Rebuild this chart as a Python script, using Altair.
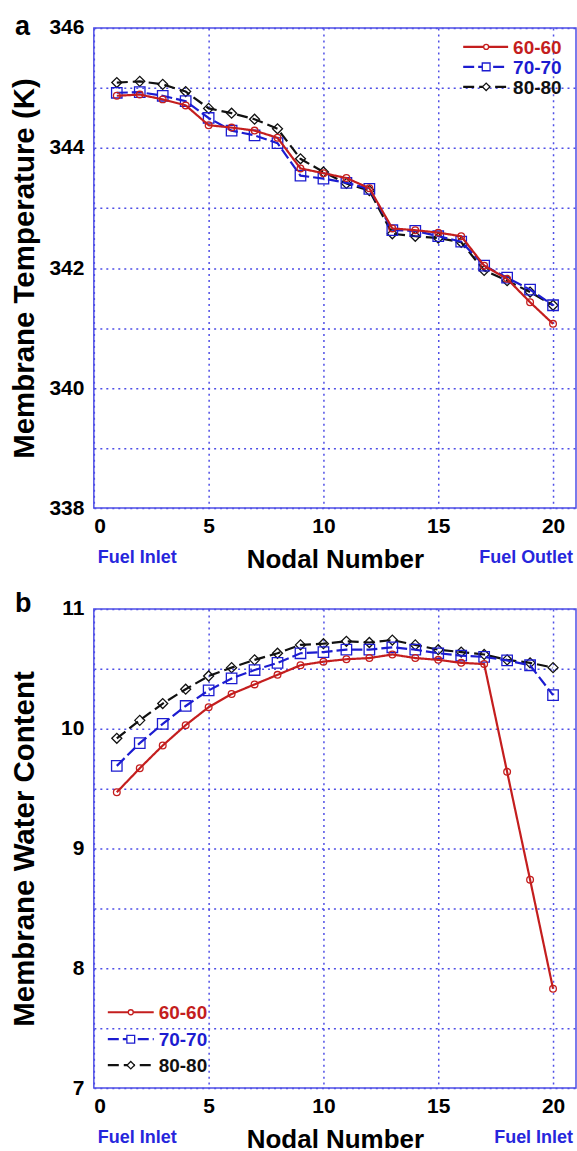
import altair as alt
import pandas as pd

# ---------------- data ----------------
nodes = list(range(1, 21))
series_names = ["60-60", "70-70", "80-80"]

temp_60 = [344.87, 344.89, 344.81, 344.71, 344.38, 344.34, 344.29, 344.17, 343.66, 343.58,
           343.50, 343.33, 342.66, 342.63, 342.59, 342.53, 342.04, 341.82, 341.43, 341.07]
temp_70 = [344.92, 344.93, 344.87, 344.78, 344.50, 344.29, 344.21, 344.08, 343.54, 343.49,
           343.42, 343.32, 342.63, 342.62, 342.53, 342.44, 342.04, 341.84, 341.64, 341.38]
temp_80 = [345.09, 345.11, 345.06, 344.94, 344.66, 344.58, 344.48, 344.32, 343.82, 343.60,
           343.41, 343.29, 342.57, 342.53, 342.50, 342.43, 341.96, 341.79, 341.60, 341.38]

water_60 = [9.47, 9.67, 9.86, 10.03, 10.18, 10.29, 10.37, 10.45, 10.53, 10.56,
            10.58, 10.59, 10.62, 10.59, 10.575, 10.55, 10.54, 9.64, 8.74, 7.83]
water_70 = [9.69, 9.88, 10.04, 10.19, 10.32, 10.42, 10.49, 10.55, 10.63, 10.64,
            10.66, 10.66, 10.68, 10.66, 10.63, 10.61, 10.60, 10.57, 10.53, 10.28]
water_80 = [9.92, 10.07, 10.21, 10.33, 10.44, 10.51, 10.575, 10.63, 10.70, 10.71,
            10.73, 10.72, 10.74, 10.70, 10.66, 10.64, 10.62, 10.575, 10.55, 10.51]

x_ticks = [0, 5, 10, 15, 20]
temp_grid = [338, 339, 340, 341, 342, 343, 344, 345, 346]
water_grid = [7, 7.5, 8, 8.5, 9, 9.5, 10, 10.5, 11]

# ---------------- styles ----------------
FONT = "Liberation Sans"
FRAME = "#4f4fe6"
STY = {
    "60-60": dict(color="#c41e1e", dash=[1, 0], shape="circle", size=45),
    "70-70": dict(color="#1c1cd0", dash=[11, 4], shape="square", size=110),
    "80-80": dict(color="#111111", dash=[11, 5], shape="diamond", size=100),
}
DRAW_ORDER = ["80-80", "70-70", "60-60"]
W = 483


def panel(vals, ydom, ygrid, lab_expr, ytitle, H, letter, letter_y,
          right_label, leg_rows, leg_x0, leg_x1, leg_mx, leg_tx, anchor=False):
    dummy = pd.DataFrame({"k": [0]})
    xaxis = alt.Axis(values=x_ticks, title="Nodal Number", domain=False, ticks=False,
                     labelPadding=7, labelFontSize=21, labelFont=FONT, labelFontWeight="bold",
                     labelColor="black", titleFont=FONT, titleFontSize=26, titleFontWeight="bold",
                     titleColor="black", titleY=51, titleBaseline="middle",
                     grid=True, gridColor=FRAME, gridDash=[2, 4], gridWidth=1.5, gridOpacity=1)
    yaxis = alt.Axis(values=ygrid, title=ytitle, domain=False, ticks=False,
                     labelExpr=lab_expr, labelPadding=10, labelFontSize=21, labelFont=FONT,
                     labelFontWeight="bold", labelColor="black",
                     titleFont=FONT, titleFontSize=29.5, titleFontWeight="bold", titleColor="black",
                     titleAngle=270, titleX=-60, titleY=H / 2, titleAlign="center",
                     titleBaseline="alphabetic",
                     grid=True, gridColor=FRAME, gridDash=[2, 4], gridWidth=1.5, gridOpacity=1)
    layers = []
    for name in DRAW_ORDER:
        s = STY[name]
        df = pd.DataFrame({"node": nodes, "value": vals[name]})
        base = alt.Chart(df).encode(
            x=alt.X("node:Q", scale=alt.Scale(domain=[0, 21], nice=False, zero=False), axis=xaxis),
            y=alt.Y("value:Q", scale=alt.Scale(domain=ydom, nice=False, zero=False), axis=yaxis),
        )
        layers.append(base.mark_line(color=s["color"], strokeWidth=2.2, strokeDash=s["dash"]))
        layers.append(base.mark_point(shape=s["shape"], size=s["size"], filled=False,
                                      color=s["color"], strokeWidth=1.3, opacity=1))
    # legend
    for i, name in enumerate(series_names):
        s = STY[name]
        yy = leg_rows[i]
        layers.append(alt.Chart(dummy).mark_rule(color=s["color"], strokeWidth=2.2,
                                                 strokeDash=s["dash"]).encode(
            x=alt.value(leg_x0), x2=alt.value(leg_x1), y=alt.value(yy)))
        layers.append(alt.Chart(dummy).mark_point(shape=s["shape"], size=s["size"] * 0.55,
                                                  filled=True, fill="white", stroke=s["color"],
                                                  strokeWidth=1.3, opacity=1).encode(
            x=alt.value(leg_mx), y=alt.value(yy)))
        layers.append(alt.Chart(dummy).mark_text(text=name, align="left", baseline="middle",
                                                 font=FONT, fontSize=19, fontWeight="bold",
                                                 color=s["color"]).encode(
            x=alt.value(leg_tx), y=alt.value(yy + 1)))
    # panel letter
    layers.append(alt.Chart(dummy).mark_text(text=letter, align="left", baseline="alphabetic",
                                             font=FONT, fontSize=27, fontWeight="bold",
                                             color="black").encode(
        x=alt.value(-79), y=alt.value(letter_y)))
    # fuel labels
    layers.append(alt.Chart(dummy).mark_text(text="Fuel Inlet", align="left", baseline="middle",
                                             font=FONT, fontSize=18, fontWeight="bold",
                                             color="#2626dc").encode(
        x=alt.value(4), y=alt.value(H + 50)))
    layers.append(alt.Chart(dummy).mark_text(text=right_label, align="right", baseline="middle",
                                             font=FONT, fontSize=18, fontWeight="bold",
                                             color="#2626dc").encode(
        x=alt.value(480), y=alt.value(H + 50)))
    if anchor:
        layers.append(alt.Chart(dummy).mark_rule(strokeOpacity=0, strokeWidth=0.01).encode(
            x=alt.value(-93), x2=alt.value(-93), y=alt.value(-26), y2=alt.value(-26)))
    return alt.layer(*layers).properties(width=W, height=H)


top = panel({"60-60": temp_60, "70-70": temp_70, "80-80": temp_80},
            [338, 346], temp_grid, "datum.value % 2 == 0 ? format(datum.value, 'd') : ''",
            "Membrane Temperature (K)", 481, "a", 7, "Fuel Outlet",
            [19, 39, 59], 370, 415, 393, 420, anchor=True)

bottom = panel({"60-60": water_60, "70-70": water_70, "80-80": water_80},
               [7, 11], water_grid, "datum.value % 1 == 0 ? format(datum.value, 'd') : ''",
               "Membrane Water Content", 480, "b", 3, "Fuel Inlet",
               [404, 431, 457], 14, 60, 37, 65)

chart = alt.vconcat(top, bottom, spacing=101, bounds="flush").properties(
    padding=0, background="white"
).configure_view(stroke=FRAME, strokeWidth=1.5)

chart.save("out.html", embed_options={"renderer": "svg", "actions": False})
